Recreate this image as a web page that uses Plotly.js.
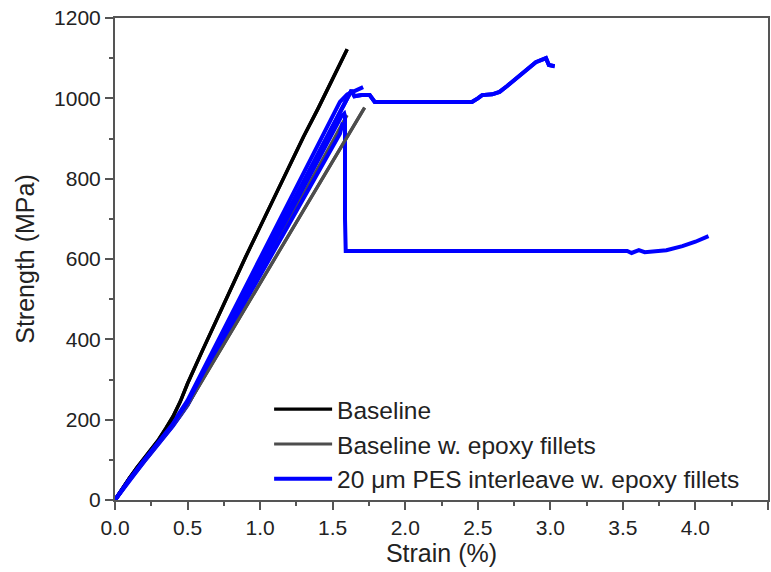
<!DOCTYPE html>
<html>
<head>
<meta charset="utf-8">
<script src="https://cdn.plot.ly/plotly-3.0.1.min.js"></script>
<style>html,body{margin:0;padding:0;background:#fff;}#chart{width:771px;height:572px;}</style>
</head>
<body>
<div id="chart"></div>
<script>
// Baseline specimen
const baselineStrain = [0, 0.05, 0.1, 0.15, 0.2, 0.25, 0.3, 0.35, 0.4, 0.45, 0.5, 0.6, 0.7, 0.8, 0.9, 1.0, 1.1, 1.2, 1.3, 1.4, 1.5, 1.55, 1.58, 1.6];
const baselineStress = [0, 28, 55, 80, 103, 126, 150, 178, 208, 245, 290, 370, 450, 530, 605, 680, 755, 830, 905, 975, 1050, 1085, 1110, 1122];

// Baseline w. epoxy fillets, two specimens
const filletAStrain = [0, 0.05, 0.1, 0.15, 0.2, 0.25, 0.3, 0.35, 0.4, 0.45, 0.5, 0.6, 0.7, 0.8, 0.9, 1.0, 1.1, 1.2, 1.3, 1.4, 1.5, 1.6, 1.68, 1.72];
const filletAStress = [0, 26, 51, 74, 97, 119, 141, 163, 187, 211, 236, 297, 358, 419, 480, 540, 600, 660, 722, 784, 845, 905, 955, 977];
const filletBStrain = [0, 0.05, 0.1, 0.2, 0.3, 0.4, 0.5, 0.6, 0.7, 0.8, 0.9, 1.0, 1.1, 1.2, 1.3, 1.4, 1.5, 1.57, 1.6];
const filletBStress = [0, 26, 52, 98, 143, 190, 240, 305, 370, 436, 502, 567, 632, 697, 762, 828, 893, 940, 958];

// 20 um PES interleave w. epoxy fillets, four specimens
const pesAStrain = [0, 0.05, 0.1, 0.15, 0.2, 0.25, 0.3, 0.35, 0.4, 0.45, 0.5, 0.6, 0.7, 0.8, 0.9, 1.0, 1.1, 1.2, 1.3, 1.4, 1.5, 1.56, 1.58, 1.585, 1.585, 1.59, 1.8, 2.2, 2.6, 3.0, 3.3, 3.53, 3.56, 3.61, 3.65, 3.72, 3.8, 3.91, 4.0, 4.09];
const pesAStress = [0, 25, 50, 73, 96, 118, 140, 162, 186, 210, 236, 303, 371, 439, 507, 575, 643, 711, 779, 847, 915, 955, 962, 955, 700, 620, 620, 620, 620, 620, 620, 620, 615, 622, 617, 619, 622, 632, 643, 657];
const pesBStrain = [0, 0.05, 0.1, 0.2, 0.3, 0.4, 0.5, 0.6, 0.7, 0.8, 0.9, 1.0, 1.1, 1.2, 1.3, 1.4, 1.5, 1.6, 1.63, 1.65, 1.7, 1.755, 1.79, 2.0, 2.2, 2.46, 2.5, 2.53, 2.6, 2.65, 2.7, 2.77, 2.85, 2.9, 2.97, 2.99, 3.03];
const pesBStress = [0, 26, 52, 99, 143, 190, 242, 311, 380, 449, 518, 587, 656, 725, 794, 863, 932, 1000, 1020, 1005, 1008, 1008, 991, 991, 991, 991, 1000, 1008, 1010, 1016, 1030, 1050, 1075, 1090, 1100, 1083, 1080];
const pesCStrain = [0, 0.05, 0.1, 0.2, 0.3, 0.4, 0.5, 0.6, 0.7, 0.8, 0.9, 1.0, 1.1, 1.2, 1.3, 1.4, 1.5, 1.55, 1.6, 1.65, 1.68, 1.71];
const pesCStress = [0, 27, 54, 100, 146, 193, 248, 319, 390, 461, 532, 603, 674, 745, 816, 887, 958, 991, 1010, 1018, 1022, 1028];
const pesDStrain = [0, 0.05, 0.1, 0.2, 0.3, 0.4, 0.5, 0.6, 0.7, 0.8, 0.9, 1.0, 1.1, 1.2, 1.3, 1.4, 1.5, 1.55, 1.57];
const pesDStress = [0, 25, 50, 95, 139, 185, 238, 302, 366, 430, 494, 558, 622, 686, 750, 814, 878, 912, 940];

const seriesNames = ['Baseline', 'Baseline w. epoxy fillets', '20 \u03bcm PES interleave w. epoxy fillets'];
const xTickVals = [0, 0.5, 1.0, 1.5, 2.0, 2.5, 3.0, 3.5, 4.0, 4.5];
const xTickText = ['0.0', '0.5', '1.0', '1.5', '2.0', '2.5', '3.0', '3.5', '4.0', '4.'];

const black = '#000000', gray = '#4d4d4d', blue = '#0000ff';
function tr(x, y, name, color, w, group, show) {
  return {x: x, y: y, type: 'scatter', mode: 'lines', name: name, legendgroup: group,
    showlegend: show, line: {color: color, width: w}, hoverinfo: 'skip'};
}
const data = [
  tr(filletAStrain, filletAStress, seriesNames[1], gray, 3.2, 'g2', false),
  tr(filletBStrain, filletBStress, seriesNames[1], gray, 3.2, 'g2', false),
  tr(pesDStrain, pesDStress, seriesNames[2], blue, 4, 'g3', false),
  tr(pesAStrain, pesAStress, seriesNames[2], blue, 4, 'g3', false),
  tr(pesBStrain, pesBStress, seriesNames[2], blue, 4, 'g3', false),
  tr(pesCStrain, pesCStress, seriesNames[2], blue, 4, 'g3', false),
  tr(baselineStrain, baselineStress, seriesNames[0], black, 3.4, 'g1', false),
  // legend entries (same data, drawn underneath identical lines)
  tr(baselineStrain, baselineStress, seriesNames[0], black, 3.4, 'g1', true),
  tr(filletAStrain, filletAStress, seriesNames[1], gray, 3.2, 'g2', true),
  tr(pesBStrain, pesBStress, seriesNames[2], blue, 4, 'g3', true)
];

const fam = 'Liberation Sans, Arial, sans-serif';
const axisCommon = {
  showline: true, mirror: true, linecolor: '#555', linewidth: 2,
  ticks: 'outside', ticklen: 8, tickwidth: 2, tickcolor: '#555',
  showgrid: false, zeroline: false, automargin: false,
  tickfont: {family: fam, size: 21, color: '#222'}
};
const layout = {
  width: 771, height: 572,
  margin: {l: 115, r: 3, t: 18, b: 72},
  paper_bgcolor: '#fff', plot_bgcolor: '#fff',
  font: {family: fam, color: '#222'},
  showlegend: true,
  legend: {x: 0.236, y: 0.235, xanchor: 'left', yanchor: 'top', bgcolor: 'rgba(0,0,0,0)',
    itemwidth: 58,
    font: {family: fam, size: 24.5, color: '#222'}, tracegroupgap: 0, traceorder: 'normal'},
  xaxis: Object.assign({}, axisCommon, {
    range: [0, 4.5], tickmode: 'array', tickvals: xTickVals, ticktext: xTickText,
    minor: {dtick: 0.25, tick0: 0, ticks: 'outside', ticklen: 4, tickwidth: 2, tickcolor: '#555'},
    title: {text: 'Strain (%)', font: {family: fam, size: 25, color: '#222'}, standoff: 4}
  }),
  yaxis: Object.assign({}, axisCommon, {
    range: [0, 1200], dtick: 200, tick0: 0,
    minor: {dtick: 100, tick0: 0, ticks: 'outside', ticklen: 4, tickwidth: 2, tickcolor: '#555'},
    title: {text: 'Strength (MPa)', font: {family: fam, size: 25, color: '#222'}, standoff: 12}
  })
};
Plotly.newPlot('chart', data, layout, {displayModeBar: false, staticPlot: true});
</script>
</body>
</html>
